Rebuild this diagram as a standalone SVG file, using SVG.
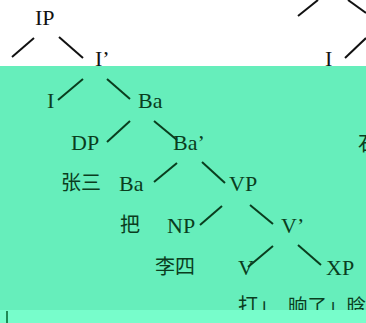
<svg xmlns="http://www.w3.org/2000/svg" width="366" height="323" viewBox="0 0 366 323">
<style>
.lat{font-family:"Liberation Serif","Times New Roman",serif;font-size:22px}
.cjk{font-family:"Liberation Serif","Noto Sans CJK SC",sans-serif;font-size:20px}
.w{fill:#111}
.g{fill:#0a3d1e}
.lw{stroke:#111;stroke-width:2;fill:none}
.lg{stroke:#0a3d1e;stroke-width:2;fill:none}
</style>
<rect x="0" y="0" width="366" height="323" fill="#ffffff"/>
<rect x="0" y="66" width="366" height="257" fill="#66eebb"/>
<g id="connectors">
<line class="lw" x1="12" y1="57" x2="34" y2="38"/>
<line class="lw" x1="59" y1="37" x2="83" y2="58"/>
<line class="lw" x1="298" y1="16" x2="318" y2="0"/>
<line class="lw" x1="348" y1="0" x2="366" y2="13"/>
<line class="lw" x1="345" y1="58" x2="366" y2="38"/>
<line class="lg" x1="58" y1="100" x2="83" y2="79"/>
<line class="lg" x1="107" y1="79" x2="130" y2="99"/>
<line class="lg" x1="107" y1="142" x2="130" y2="121"/>
<line class="lg" x1="154" y1="121" x2="177" y2="140"/>
<line class="lg" x1="154" y1="182" x2="177" y2="163"/>
<line class="lg" x1="202" y1="162" x2="225" y2="183"/>
<line class="lg" x1="200" y1="225" x2="222" y2="206"/>
<line class="lg" x1="250" y1="205" x2="273" y2="224"/>
<line class="lg" x1="273" y1="246" x2="248" y2="267"/>
<line class="lg" x1="298" y1="245" x2="321" y2="265"/>
</g>
<g id="n-IP"><text class="lat w" x="35" y="25">IP</text></g>
<g id="n-Ibar"><text class="lat w" x="95" y="66">I’</text></g>
<g id="n-I-right"><text class="lat w" x="325" y="66">I</text></g>
<g id="n-I"><text class="lat g" x="47" y="108">I</text></g>
<g id="n-Ba"><text class="lat g" x="138" y="108">Ba</text></g>
<g id="n-DP"><text class="lat g" x="71" y="150">DP</text></g>
<g id="n-Babar"><text class="lat g" x="173" y="150">Ba’</text></g>
<g id="n-shi"><text class="cjk g" x="358" y="151">石</text></g>
<g id="n-zhangsan"><text class="cjk g" x="61" y="190">张三</text></g>
<g id="n-Ba2"><text class="lat g" x="119" y="191">Ba</text></g>
<g id="n-VP"><text class="lat g" x="229" y="191">VP</text></g>
<g id="n-ba"><text class="cjk g" x="120" y="232">把</text></g>
<g id="n-NP"><text class="lat g" x="167" y="233">NP</text></g>
<g id="n-Vbar"><text class="lat g" x="281" y="233">V’</text></g>
<g id="n-lisi"><text class="cjk g" x="155" y="274">李四</text></g>
<g id="n-V"><text class="lat g" x="238" y="275">V</text></g>
<g id="n-XP"><text class="lat g" x="326" y="275">XP</text></g>
<g id="n-da"><text class="cjk g" x="238" y="313">打」</text></g>
<g id="n-xiang"><text class="cjk g" x="288" y="313" style="font-size:19.5px">晌了」晗</text></g>
<rect x="0" y="310" width="366" height="13" fill="#77fdcb"/>
<rect x="6" y="311" width="2" height="12" fill="#1f8a55"/>
</svg>
